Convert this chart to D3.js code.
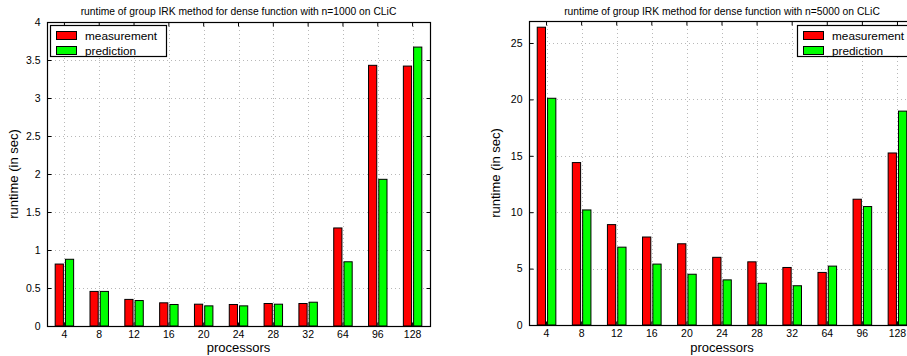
<!DOCTYPE html>
<html>
<head>
<meta charset="utf-8">
<script src="https://cdn.jsdelivr.net/npm/d3@7/dist/d3.min.js"></script>
<style>
  body { margin: 0; background: #fff; }
  svg { display: block; font-family: "Liberation Sans", Arial, sans-serif; }
</style>
</head>
<body>
<div class="figure"></div>
<script>
(() => {
  // data
  const processors = ["4", "8", "12", "16", "20", "24", "28", "32", "64", "96", "128"];
  const series = ["measurement", "prediction"];
  const colors = ["#ff0000", "#00ff00"];

  const meas1000 = [0.815, 0.455, 0.35, 0.305, 0.287, 0.283, 0.296, 0.296, 1.29, 3.43, 3.42];
  const pred1000 = [0.878, 0.455, 0.335, 0.283, 0.265, 0.265, 0.287, 0.313, 0.845, 1.93, 3.67];

  const meas5000 = [26.4, 14.4, 8.9, 7.8, 7.2, 6.0, 5.6, 5.1, 4.66, 11.15, 15.25];
  const pred5000 = [20.1, 10.2, 6.9, 5.4, 4.5, 4.0, 3.7, 3.48, 5.22, 10.5, 18.96];

  const ticks1000 = [0, 0.5, 1, 1.5, 2, 2.5, 3, 3.5, 4];
  const ticks5000 = [0, 5, 10, 15, 20, 25];

  const width = 907, height = 356;

  const svg = d3.select(".figure")
    .append("svg")
    .attr("width", width)
    .attr("height", height);

  const panels = [
    {
      title: "runtime of group IRK method for dense function with n=1000 on CLiC",
      meas: meas1000, pred: pred1000, ticks: ticks1000, ymax: 4,
      left: 47, right: 430, top: 22, bottom: 326,
      legend: { x: 50, y: 25, w: 116 }
    },
    {
      title: "runtime of group IRK method for dense function with n=5000 on CLiC",
      meas: meas5000, pred: pred5000, ticks: ticks5000, ymax: 26.95,
      left: 529, right: 915, top: 21, bottom: 325,
      legend: { x: 797, y: 25, w: 118 }
    }
  ];

  panels.forEach(p => drawPanel(p));

  function drawPanel(p) {
    const g = svg.append("g");

    const x = d3.scaleBand()
      .domain(processors)
      .range([p.left, p.right])
      .paddingInner(0)
      .paddingOuter(0);

    const bw = x.bandwidth();

    const xs = d3.scaleBand()
      .domain(series)
      .range([-0.265 * bw, 0.265 * bw])
      .paddingInner(0.2);

    const y = d3.scaleLinear()
      .domain([0, p.ymax])
      .range([p.bottom, p.top]);

    // grid
    const grid = g.append("g")
      .attr("stroke", "#b8b8b8")
      .attr("stroke-width", 1)
      .attr("stroke-dasharray", "1,3");

    grid.selectAll("line.v").data(processors).enter().append("line")
      .attr("x1", d => Math.round(x(d) + bw / 2) + 0.5)
      .attr("x2", d => Math.round(x(d) + bw / 2) + 0.5)
      .attr("y1", p.top)
      .attr("y2", p.bottom);

    grid.selectAll("line.h").data(p.ticks.filter(t => t > 0 && t < p.ymax)).enter().append("line")
      .attr("x1", p.left)
      .attr("x2", p.right)
      .attr("y1", d => Math.round(y(d)) + 0.5)
      .attr("y2", d => Math.round(y(d)) + 0.5);

    // bars
    const rows = processors.map((c, i) => ({ c, vals: [p.meas[i], p.pred[i]] }));

    const grp = g.selectAll("g.grp").data(rows).enter().append("g")
      .attr("transform", d => `translate(${x(d.c) + bw / 2},0)`);

    grp.selectAll("rect")
      .data(d => d.vals.map((v, k) => ({ key: series[k], v, k })))
      .enter().append("rect")
      .attr("x", d => xs(d.key))
      .attr("width", xs.bandwidth())
      .attr("y", d => y(d.v))
      .attr("height", d => y(0) - y(d.v))
      .attr("fill", d => colors[d.k])
      .attr("stroke", "#000")
      .attr("stroke-width", 1);

    // axes box
    g.append("rect")
      .attr("x", p.left + 0.5)
      .attr("y", p.top + 0.5)
      .attr("width", p.right - p.left)
      .attr("height", p.bottom - p.top)
      .attr("fill", "none")
      .attr("stroke", "#000")
      .attr("stroke-width", 1.2);

    const xAxis = d3.axisBottom(x).tickSizeInner(-4).tickSizeOuter(0).tickPadding(4);
    const xAxisG = g.append("g")
      .attr("transform", `translate(0,${p.bottom + 0.5})`)
      .call(xAxis);
    xAxisG.select(".domain").remove();

    const xTop = d3.axisTop(x).tickSizeInner(-4).tickSizeOuter(0).tickFormat("");
    const xTopG = g.append("g")
      .attr("transform", `translate(0,${p.top + 0.5})`)
      .call(xTop);
    xTopG.select(".domain").remove();

    const yAxis = d3.axisLeft(y).tickValues(p.ticks).tickSizeInner(-4).tickSizeOuter(0).tickPadding(7)
      .tickFormat(d => String(d));
    const yAxisG = g.append("g")
      .attr("transform", `translate(${p.left + 0.5},0)`)
      .call(yAxis);
    yAxisG.select(".domain").remove();

    const yRight = d3.axisRight(y).tickValues(p.ticks).tickSizeInner(-4).tickSizeOuter(0).tickFormat("");
    const yRightG = g.append("g")
      .attr("transform", `translate(${p.right + 0.5},0)`)
      .call(yRight);
    yRightG.select(".domain").remove();

    g.selectAll(".tick text")
      .attr("font-size", "10.5px")
      .attr("font-family", "Liberation Sans, Arial, sans-serif")
      .attr("fill", "#000");
    g.selectAll(".tick line").attr("stroke", "#000");

    // labels
    const cx = (p.left + p.right) / 2;
    g.append("text")
      .attr("x", cx)
      .attr("y", 15)
      .attr("text-anchor", "middle")
      .attr("font-size", "10.3px")
      .text(p.title);

    g.append("text")
      .attr("x", cx)
      .attr("y", 352)
      .attr("text-anchor", "middle")
      .attr("font-size", "13px")
      .text("processors");

    g.append("text")
      .attr("transform", `translate(${p.left - 29},${(p.top + p.bottom) / 2}) rotate(-90)`)
      .attr("text-anchor", "middle")
      .attr("font-size", "13px")
      .text("runtime (in sec)");

    // legend
    const lg = g.append("g").attr("transform", `translate(${p.legend.x},${p.legend.y})`);
    lg.append("rect")
      .attr("x", 0.5).attr("y", 0.5)
      .attr("width", p.legend.w).attr("height", 31)
      .attr("fill", "#fff")
      .attr("stroke", "#000")
      .attr("stroke-width", 1.2);
    series.forEach((s, k) => {
      lg.append("rect")
        .attr("x", 6.5).attr("y", 6.5 + k * 15)
        .attr("width", 20).attr("height", 8)
        .attr("fill", colors[k])
        .attr("stroke", "#000");
      lg.append("text")
        .attr("x", 35)
        .attr("y", 14.5 + k * 15)
        .attr("font-size", "11.8px")
        .text(s);
    });
  }
})();
</script>
</body>
</html>
